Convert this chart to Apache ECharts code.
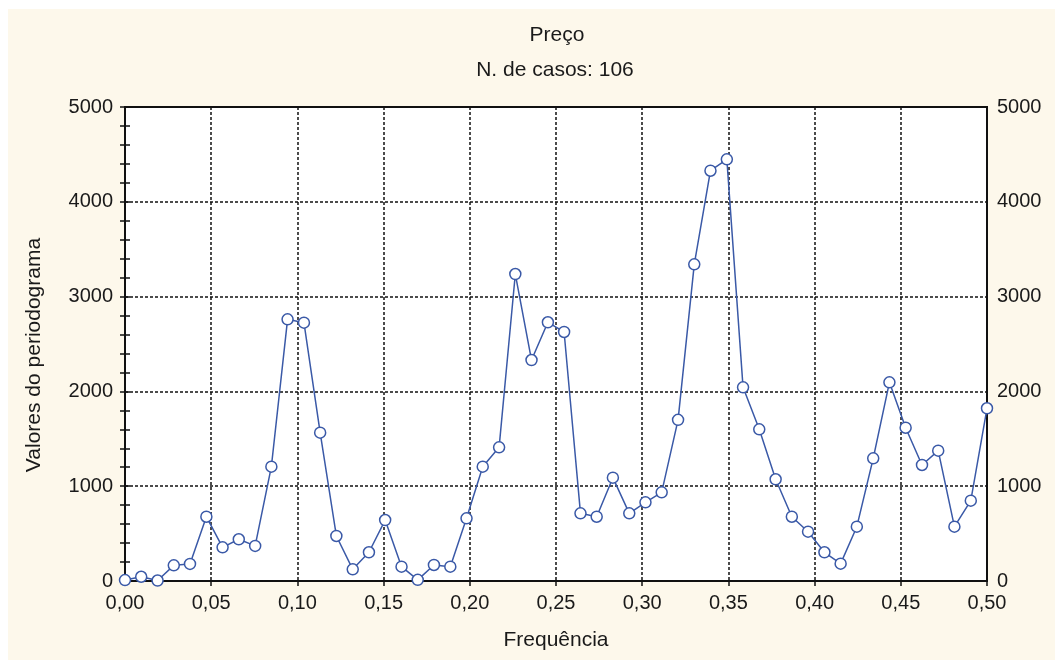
<!DOCTYPE html>
<html>
<head>
<meta charset="utf-8">
<script src="https://cdn.jsdelivr.net/npm/echarts@6/dist/echarts.min.js"></script>
<style>
  html, body { margin: 0; padding: 0; background: #fff; }
  #wrap { position: relative; width: 1055px; height: 662px; }
  #panel { position: absolute; left: 8px; top: 9px; width: 1047px; height: 651px; background: #fdf8eb; }
  #main { position: absolute; left: 0; top: 0; width: 1055px; height: 662px; }
</style>
</head>
<body>
<div id="wrap">
  <div id="panel"></div>
  <div id="main"></div>
</div>
<script>
// frequências k/106, k = 0..53
const frequencias = [
  0.0000, 0.0094, 0.0189, 0.0283, 0.0377, 0.0472, 0.0566, 0.0660, 0.0755, 0.0849,
  0.0943, 0.1038, 0.1132, 0.1226, 0.1321, 0.1415, 0.1509, 0.1604, 0.1698, 0.1792,
  0.1887, 0.1981, 0.2075, 0.2170, 0.2264, 0.2358, 0.2453, 0.2547, 0.2642, 0.2736,
  0.2830, 0.2925, 0.3019, 0.3113, 0.3208, 0.3302, 0.3396, 0.3491, 0.3585, 0.3679,
  0.3774, 0.3868, 0.3962, 0.4057, 0.4151, 0.4245, 0.4340, 0.4434, 0.4528, 0.4623,
  0.4717, 0.4811, 0.4906, 0.5000
];
// valores do periodograma
const periodograma = [
  10, 45, 5, 165, 180, 678, 355, 440, 370, 1206,
  2760, 2725, 1565, 475, 123, 303, 643, 151, 12, 169,
  151, 661, 1206, 1410, 3238, 2331, 2729, 2627, 714, 678,
  1090, 714, 830, 935, 1700, 3340, 4328, 4448, 2043, 1600,
  1073, 678, 520, 303, 183, 573, 1294, 2096, 1617, 1224,
  1375, 573, 847, 1822
];
const titulo = 'Preço';
const subtitulo = 'N. de casos: 106';

const fonte = '"Liberation Sans", Arial, sans-serif';
const corTexto = '#1a1a1a';
const tam = 20;      // rótulos dos eixos
const tamNome = 21;  // títulos e nomes dos eixos
const grade = { show: true, lineStyle: { color: '#111', width: 1.5, type: [3, 2] } };
const tique = { show: true, inside: true, length: 5, lineStyle: { color: '#111', width: 1.5 } };
const tiqueMenor = { show: true, splitNumber: 5, length: 5, lineStyle: { color: '#111', width: 1.5 } };

const option = {
  backgroundColor: 'transparent',
  animation: false,
  textStyle: { fontFamily: fonte },
  title: [
    { text: titulo, left: 552, textAlign: 'center', top: 20, textStyle: { fontFamily: fonte, fontSize: tamNome, fontWeight: 'normal', color: corTexto } },
    { text: subtitulo, left: 550, textAlign: 'center', top: 55, textStyle: { fontFamily: fonte, fontSize: tamNome, fontWeight: 'normal', color: corTexto } },
  ],
  grid: {
    left: 125, right: 68, top: 107, bottom: 81,
    show: true, backgroundColor: '#fff', borderColor: '#111', borderWidth: 2,
  },
  xAxis: [
    {
      type: 'value', min: 0, max: 0.5, interval: 0.05, position: 'bottom',
      name: 'Frequência', nameLocation: 'middle', nameGap: 49,
      nameTextStyle: { fontSize: tamNome, color: corTexto, fontFamily: fonte },
      axisLine: { show: false },
      axisTick: { show: false },
      axisLabel: { fontSize: tam, color: corTexto, margin: 12, formatter: v => v.toFixed(2).replace('.', ',') },
      splitLine: grade,
    },
    {
      type: 'value', min: 0, max: 0.5, interval: 0.05, position: 'top',
      axisLine: { show: false },
      axisTick: tique,
      axisLabel: { show: false },
      splitLine: { show: false },
    },
  ],
  yAxis: [
    {
      type: 'value', min: 0, max: 5000, interval: 1000, position: 'left',
      name: 'Valores do periodograma', nameLocation: 'middle', nameGap: 80,
      nameTextStyle: { fontSize: tamNome, color: corTexto, fontFamily: fonte, padding: [0, 22, 0, 0] },
      axisLine: { show: false },
      axisTick: tique,
      minorTick: tiqueMenor,
      axisLabel: { fontSize: tam, color: corTexto, margin: 12, formatter: v => String(v) },
      splitLine: grade,
    },
    {
      type: 'value', min: 0, max: 5000, interval: 1000, position: 'right',
      axisLine: { show: false },
      axisTick: tique,
      minorTick: tiqueMenor,
      axisLabel: { fontSize: tam, color: corTexto, margin: 10, formatter: v => String(v) },
      splitLine: { show: false },
    },
  ],
  series: [{
    type: 'line',
    data: frequencias.map((f, i) => [f, periodograma[i]]),
    symbol: 'circle', symbolSize: 11,
    lineStyle: { color: '#3a59a7', width: 1.5 },
    itemStyle: { color: '#fff', borderColor: '#3a59a7', borderWidth: 1.5 },
    clip: true,
    z: 5,
  }],
};

const myChart = echarts.init(document.getElementById('main'), null, { renderer: 'canvas' });
myChart.setOption(option);
</script>
</body>
</html>
